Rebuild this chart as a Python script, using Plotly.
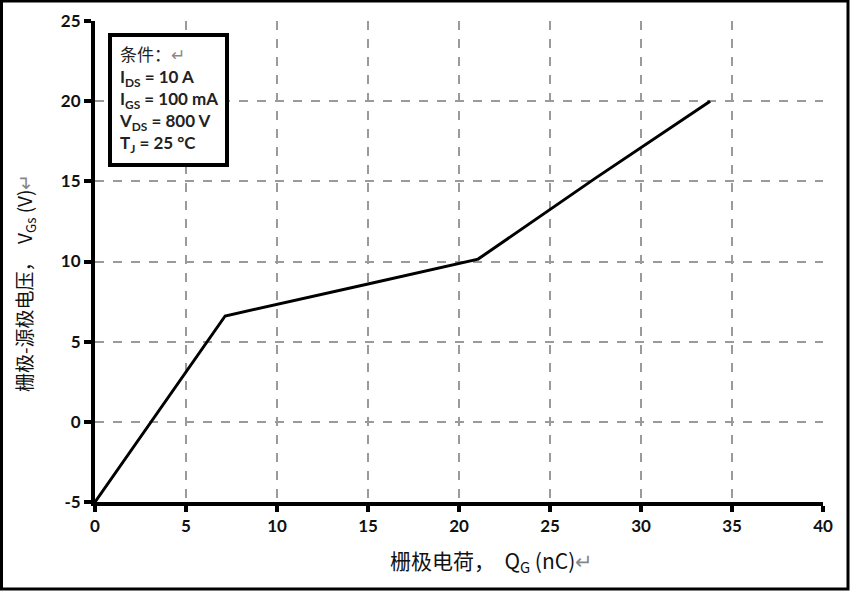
import plotly.graph_objects as go

# Data
qg_nc = [0.0, 7.15, 15.0, 21.05, 27.5, 33.8]
vgs_v = [-5.0, 6.6, 8.6, 10.15, 15.2, 20.0]

x_ticks = [0, 5, 10, 15, 20, 25, 30, 35, 40]
y_ticks = [-5, 0, 5, 10, 15, 20, 25]

cond_lines = [
    "条件：<span style='color:#888'>↵</span>",
    "<b>I<sub>DS</sub> = 10 A</b>",
    "<b>I<sub>GS</sub> = 100 mA</b>",
    "<b>V<sub>DS</sub> = 800 V</b>",
    "<b>T<sub>J</sub> = 25 °C</b>",
]
x_title = "栅极电荷，&nbsp;&nbsp;Q<sub>G</sub>&nbsp;(nC)<span style='color:#888'>↵</span>"
y_title = "栅极-源极电压，&nbsp;&nbsp;V<sub>Gs</sub>&nbsp;(V)<span style='color:#888'>↵</span>"

W, H = 850, 591
ML, MR, MT, MB = 95, 27, 21, 89
pw, ph = W - ML - MR, H - MT - MB


def px_x(p):
    return (p - ML) / pw


def px_y(p):
    return (H - MB - p) / ph


fig = go.Figure()
fig.add_trace(go.Scatter(
    x=qg_nc, y=vgs_v, mode="lines",
    line=dict(color="black", width=3),
    showlegend=False, hoverinfo="skip",
))

tickfont = dict(family="Lato, 'Open Sans', sans-serif", size=17, color="#111", weight="bold")

fig.update_xaxes(
    range=[0, 40], tickvals=x_ticks, ticktext=[str(v) for v in x_ticks],
    showgrid=True, gridcolor="#9a9a9a", griddash="dash", gridwidth=1.5,
    showline=True, linecolor="black", linewidth=4,
    ticks="outside", ticklen=6, tickwidth=4, tickcolor="black",
    tickfont=tickfont, zeroline=False, fixedrange=True,
)
fig.update_yaxes(
    range=[-5, 25], tickvals=y_ticks, ticktext=[str(v) for v in y_ticks],
    showgrid=True, gridcolor="#9a9a9a", griddash="dash", gridwidth=1.5,
    showline=True, linecolor="black", linewidth=4,
    ticks="outside", ticklen=7, tickwidth=4, tickcolor="black",
    tickfont=tickfont, zeroline=False, fixedrange=True,
)

# Outer frame around the whole picture
fig.add_shape(
    type="rect", xref="paper", yref="paper", layer="above",
    x0=px_x(1.5), x1=px_x(W - 2.0),
    y0=px_y(H - 2.0), y1=px_y(1.0),
    line=dict(color="black", width=3), fillcolor="rgba(0,0,0,0)",
)

# Conditions box
fig.add_annotation(
    xref="paper", yref="paper",
    x=px_x(108), y=px_y(33),
    xanchor="left", yanchor="top", align="left",
    text="<br>".join(cond_lines),
    showarrow=False,
    font=dict(family="Lato, 'Noto Sans CJK SC', sans-serif", size=17, color="#222"),
    bordercolor="black", borderwidth=4, borderpad=7, bgcolor="white",
)

# Axis titles
fig.add_annotation(
    xref="paper", yref="paper",
    x=px_x(492), y=px_y(561),
    xanchor="center", yanchor="middle", showarrow=False,
    text=x_title,
    font=dict(family="'Noto Sans CJK SC', sans-serif", size=21, color="#111"),
)
fig.add_annotation(
    xref="paper", yref="paper",
    x=px_x(25), y=px_y(283),
    xanchor="center", yanchor="middle", showarrow=False, textangle=-90,
    text=y_title,
    font=dict(family="'Noto Sans CJK SC', sans-serif", size=19, color="#111"),
)

fig.update_layout(
    width=W, height=H,
    margin=dict(l=ML, r=MR, t=MT, b=MB, autoexpand=False),
    paper_bgcolor="white", plot_bgcolor="white",
)

fig.write_html(
    "out.html",
    config={"displayModeBar": False},
    post_script="document.body.style.margin='0';document.body.style.overflow='hidden';",
)
